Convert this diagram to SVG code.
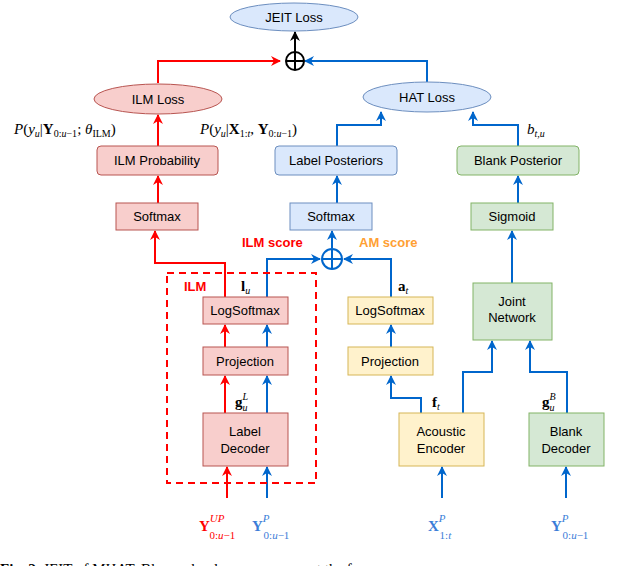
<svg xmlns="http://www.w3.org/2000/svg" width="638" height="566" viewBox="0 0 638 566">
<style>
text{font-family:"Liberation Sans",Arial,sans-serif;font-size:13px;fill:#000}
.m{font-family:"Liberation Serif","Times New Roman",serif;font-size:15px}
.r{fill:#f8cecc;stroke:#b85450}.b{fill:#dae8fc;stroke:#6c8ebf}.y{fill:#fff2cc;stroke:#d6b656}.g{fill:#d5e8d4;stroke:#82b366}
.lr{fill:none;stroke:#ff0000;stroke-width:2}.lb{fill:none;stroke:#0066cc;stroke-width:2}
</style>
<defs>
<marker id="ar" viewBox="0 0 10 10" refX="9" refY="5" markerWidth="5" markerHeight="5" orient="auto"><path d="M0,0L10,5L0,10L3,5z" fill="#ff0000"/></marker>
<marker id="ab" viewBox="0 0 10 10" refX="9" refY="5" markerWidth="5" markerHeight="5" orient="auto"><path d="M0,0L10,5L0,10L3,5z" fill="#0066cc"/></marker>
<marker id="ak" viewBox="0 0 10 10" refX="9" refY="5" markerWidth="5" markerHeight="5" orient="auto"><path d="M0,0L10,5L0,10L3,5z" fill="#000"/></marker>
</defs>
<g id="connectors">
<path class="lr" d="M158,83V61H280" marker-end="url(#ar)"/>
<path class="lb" d="M427,82V61H305" marker-end="url(#ab)"/>
<path d="M295,52V32" stroke="#000" stroke-width="2" marker-end="url(#ak)"/>
<path class="lr" d="M158,146V115" marker-end="url(#ar)"/>
<path class="lb" d="M337,146V125H381V112" marker-end="url(#ab)"/>
<path class="lb" d="M518,146V125H473V112" marker-end="url(#ab)"/>
<path class="lr" d="M158,203V176" marker-end="url(#ar)"/>
<path class="lb" d="M337,203V176" marker-end="url(#ab)"/>
<path class="lb" d="M518,203V176" marker-end="url(#ab)"/>
<path class="lr" d="M225,297V263H155V231" marker-end="url(#ar)"/>
<path class="lb" d="M267,297V259H320" marker-end="url(#ab)"/>
<path class="lb" d="M391,297V259H344" marker-end="url(#ab)"/>
<path class="lb" d="M332,248V231" marker-end="url(#ab)"/>
<path class="lb" d="M512,283V231" marker-end="url(#ab)"/>
<path class="lr" d="M225,347V325" marker-end="url(#ar)"/>
<path class="lb" d="M267,347V325" marker-end="url(#ab)"/>
<path class="lb" d="M391,347V325" marker-end="url(#ab)"/>
<path class="lr" d="M225,413V376" marker-end="url(#ar)"/>
<path class="lb" d="M267,413V376" marker-end="url(#ab)"/>
<path class="lb" d="M421,413V398H391V376" marker-end="url(#ab)"/>
<path class="lb" d="M463,413V372H492V341" marker-end="url(#ab)"/>
<path class="lb" d="M567,413V372H530V341" marker-end="url(#ab)"/>
<path class="lr" d="M227,498V467" marker-end="url(#ar)"/>
<path class="lb" d="M267,498V467" marker-end="url(#ab)"/>
<path class="lb" d="M442,498V467" marker-end="url(#ab)"/>
<path class="lb" d="M566,498V467" marker-end="url(#ab)"/>
</g>
<g id="oplus1"><circle cx="295" cy="61" r="9" fill="#fff" stroke="#000" stroke-width="2"/><path d="M286,61H304M295,52V70" stroke="#000" stroke-width="2"/></g>
<g id="oplus2"><circle cx="332" cy="259" r="10" fill="#fff" stroke="#0066cc" stroke-width="2"/><path d="M322,259H342M332,249V269" stroke="#0066cc" stroke-width="2"/></g>
<g id="jeit"><ellipse class="b" cx="294" cy="17" rx="64" ry="14"/><text x="294" y="22" text-anchor="middle">JEIT Loss</text></g>
<g id="ilmloss"><ellipse class="r" cx="158" cy="99" rx="64" ry="15"/><text x="158" y="104" text-anchor="middle">ILM Loss</text></g>
<g id="hatloss"><ellipse class="b" cx="427" cy="97" rx="64" ry="15"/><text x="427" y="102" text-anchor="middle">HAT Loss</text></g>
<g id="ilmprob"><rect class="r" x="97" y="146" width="121" height="29" rx="4"/><text x="157" y="165" text-anchor="middle">ILM Probability</text></g>
<g id="labelpost"><rect class="b" x="275" y="146" width="122" height="29" rx="4"/><text x="336" y="165" text-anchor="middle">Label Posteriors</text></g>
<g id="blankpost"><rect class="g" x="457" y="146" width="122" height="29" rx="4"/><text x="518" y="165" text-anchor="middle">Blank Posterior</text></g>
<g id="softmaxr"><rect class="r" x="116" y="203" width="82" height="27"/><text x="157" y="221" text-anchor="middle">Softmax</text></g>
<g id="softmaxb"><rect class="b" x="290" y="203" width="82" height="27"/><text x="331" y="221" text-anchor="middle">Softmax</text></g>
<g id="sigmoid"><rect class="g" x="471" y="203" width="82" height="27"/><text x="512" y="221" text-anchor="middle">Sigmoid</text></g>
<g id="ilmbox"><rect x="167" y="273" width="149" height="210" fill="none" stroke="#ff0000" stroke-width="2" stroke-dasharray="7,5"/><text x="184" y="291" style="fill:#ff0000;font-weight:bold">ILM</text></g>
<g id="logsoftr"><rect class="r" x="203" y="297" width="85" height="27"/><text x="245" y="315" text-anchor="middle">LogSoftmax</text></g>
<g id="logsofty"><rect class="y" x="348" y="297" width="85" height="27"/><text x="390" y="315" text-anchor="middle">LogSoftmax</text></g>
<g id="projr"><rect class="r" x="203" y="347" width="85" height="28"/><text x="245" y="366" text-anchor="middle">Projection</text></g>
<g id="projy"><rect class="y" x="348" y="347" width="85" height="28"/><text x="390" y="366" text-anchor="middle">Projection</text></g>
<g id="joint"><rect class="g" x="473" y="283" width="79" height="57"/><text x="512" y="306" text-anchor="middle">Joint</text><text x="512" y="322" text-anchor="middle">Network</text></g>
<g id="labeldec"><rect class="r" x="203" y="413" width="85" height="53"/><text x="245" y="436" text-anchor="middle">Label</text><text x="245" y="453" text-anchor="middle">Decoder</text></g>
<g id="acenc"><rect class="y" x="399" y="413" width="85" height="53"/><text x="441" y="436" text-anchor="middle">Acoustic</text><text x="441" y="453" text-anchor="middle">Encoder</text></g>
<g id="blankdec"><rect class="g" x="529" y="413" width="75" height="53"/><text x="566" y="436" text-anchor="middle">Blank</text><text x="566" y="453" text-anchor="middle">Decoder</text></g>
<g id="labels">
<text x="242" y="247" style="fill:#ff0000;font-weight:bold">ILM score</text>
<text x="359" y="247" style="fill:#ffa033;font-weight:bold">AM score</text>
<text class="m" x="14" y="134"><tspan font-style="italic">P</tspan>(<tspan font-style="italic">y</tspan><tspan font-size="10" font-style="italic" dy="3">u</tspan><tspan dy="-3">|</tspan><tspan font-weight="bold">Y</tspan><tspan font-size="10" dy="3">0:<tspan font-style="italic">u</tspan>−1</tspan><tspan dy="-3">; </tspan><tspan font-style="italic">θ</tspan><tspan font-size="10" dy="3">ILM</tspan><tspan dy="-3">)</tspan></text>
<text class="m" x="200" y="134"><tspan font-style="italic">P</tspan>(<tspan font-style="italic">y</tspan><tspan font-size="10" font-style="italic" dy="3">u</tspan><tspan dy="-3">|</tspan><tspan font-weight="bold">X</tspan><tspan font-size="10" dy="3">1:<tspan font-style="italic">t</tspan></tspan><tspan dy="-3">, </tspan><tspan font-weight="bold">Y</tspan><tspan font-size="10" dy="3">0:<tspan font-style="italic">u</tspan>−1</tspan><tspan dy="-3">)</tspan></text>
<text class="m" x="527" y="134" font-style="italic">b<tspan font-size="10" dy="3">t,u</tspan></text>
<text class="m" x="241" y="291" font-weight="bold">l<tspan font-size="10" font-style="italic" font-weight="normal" dy="3">u</tspan></text>
<text class="m" x="398" y="291" font-weight="bold">a<tspan font-size="10" font-style="italic" font-weight="normal" dy="3">t</tspan></text>
<text class="m" x="235" y="407" font-weight="bold">g<tspan font-size="10" font-style="italic" font-weight="normal" dy="4">u</tspan><tspan font-size="10" font-style="italic" font-weight="normal" dx="-5" dy="-11">L</tspan></text>
<text class="m" x="432" y="407" font-weight="bold">f<tspan font-size="10" font-style="italic" font-weight="normal" dy="3">t</tspan></text>
<text class="m" x="542" y="407" font-weight="bold">g<tspan font-size="10" font-style="italic" font-weight="normal" dy="4">u</tspan><tspan font-size="10" font-style="italic" font-weight="normal" dx="-5" dy="-11">B</tspan></text>
<text class="m" x="199" y="531" font-size="18" style="fill:#ff0000" font-weight="bold">Y<tspan font-size="11" font-style="italic" font-weight="normal" dy="-9">UP</tspan><tspan font-size="11" font-weight="normal" dx="-15" dy="17">0:<tspan font-style="italic">u</tspan>−1</tspan></text>
<text class="m" x="252" y="531" font-size="18" style="fill:#3b7dd8" font-weight="bold">Y<tspan font-size="11" font-style="italic" font-weight="normal" dy="-9">P</tspan><tspan font-size="11" font-weight="normal" dx="-6" dy="17">0:<tspan font-style="italic">u</tspan>−1</tspan></text>
<text class="m" x="428" y="531" font-size="18" style="fill:#3b7dd8" font-weight="bold">X<tspan font-size="11" font-style="italic" font-weight="normal" dy="-9">P</tspan><tspan font-size="11" font-weight="normal" dx="-6" dy="17">1:<tspan font-style="italic">t</tspan></tspan></text>
<text class="m" x="551" y="531" font-size="18" style="fill:#3b7dd8" font-weight="bold">Y<tspan font-size="11" font-style="italic" font-weight="normal" dy="-9">P</tspan><tspan font-size="11" font-weight="normal" dx="-6" dy="17">0:<tspan font-style="italic">u</tspan>−1</tspan></text>
<text class="m" x="0" y="574" font-size="19"><tspan font-weight="bold">Fig. 2.</tspan>  JEIT of MHAT. Blue and red arrows represent the form</text>
</g>
</svg>
